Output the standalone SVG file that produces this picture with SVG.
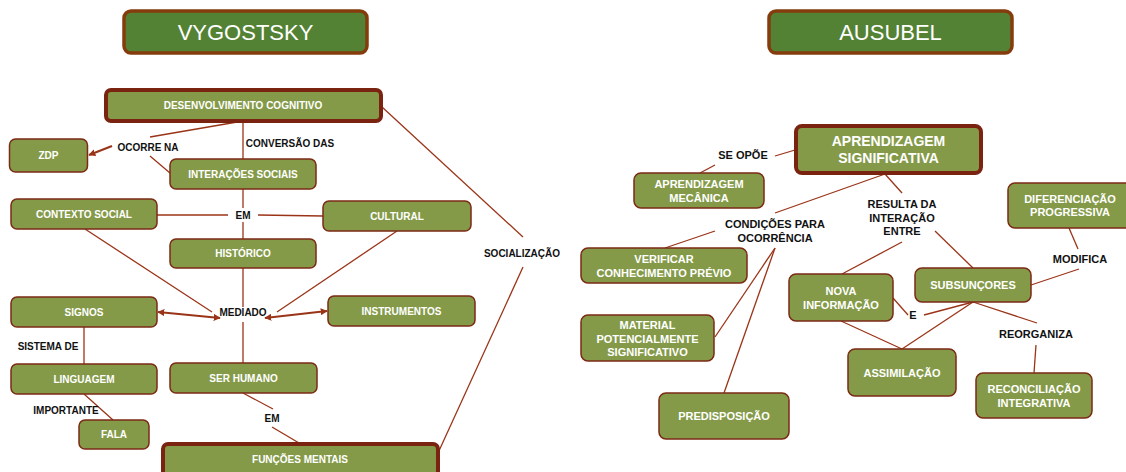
<svg xmlns="http://www.w3.org/2000/svg" width="1126" height="472" viewBox="0 0 1126 472">
  <defs>
    <marker id="arrow" viewBox="0 0 10 10" refX="9" refY="5" markerWidth="7" markerHeight="7" markerUnits="userSpaceOnUse" orient="auto-start-reverse">
      <path d="M0,0 L10,5 L0,10 z" fill="#9a3418"/>
    </marker>
    <style>
      .title rect { fill: #548235; stroke: #843c0c; stroke-width: 3.5; }
      .title text { fill: #ffffff; font-family: "Liberation Sans", Arial, sans-serif; font-size: 22px; text-anchor: middle; dominant-baseline: central; }
      .node rect { fill: #849a48; stroke: #7b2a14; stroke-width: 1.5; }
      .node.main rect { stroke: #7a2310; stroke-width: 4; }
      .node text { fill: #ffffff; font-family: "Liberation Sans", Arial, sans-serif; font-weight: bold; font-size: 10px; text-anchor: middle; dominant-baseline: central; }
      .aus text { font-size: 11px; }
      .aus.main text { font-size: 14px; }
      .lbl { fill: #111111; font-family: "Liberation Sans", Arial, sans-serif; font-weight: bold; font-size: 10px; text-anchor: middle; dominant-baseline: central; }
      .lbl.aus { font-size: 11px; }
      .links line { stroke: #9a3418; stroke-width: 1.3; fill: none; }
      .links line.arr { stroke-width: 2; }
    </style>
  </defs>

  <rect width="1126" height="472" fill="#ffffff"/>

  <!-- connectors -->
  <g class="links">
    <!-- Vygotsky -->
    <line x1="243" y1="121" x2="150" y2="137"/>
    <line class="arr" x1="112" y1="146" x2="89" y2="155" marker-end="url(#arrow)"/>
    <line x1="150" y1="156" x2="170" y2="173"/>
    <line x1="243" y1="121" x2="243" y2="159"/>
    <line x1="243" y1="189" x2="243" y2="208"/>
    <line x1="157" y1="215" x2="228" y2="215"/>
    <line x1="258" y1="215" x2="323" y2="216"/>
    <line x1="243" y1="222" x2="243" y2="239"/>
    <line x1="85" y1="229" x2="212" y2="312"/>
    <line x1="397" y1="231" x2="277" y2="312"/>
    <line x1="243" y1="268" x2="243" y2="307"/>
    <line x1="243" y1="322" x2="243" y2="363"/>
    <line class="arr" x1="158" y1="312" x2="220" y2="318" marker-start="url(#arrow)" marker-end="url(#arrow)"/>
    <line class="arr" x1="265" y1="318" x2="327" y2="311" marker-start="url(#arrow)" marker-end="url(#arrow)"/>
    <line x1="84" y1="327" x2="84" y2="364"/>
    <line x1="84" y1="394" x2="113" y2="420"/>
    <line x1="243" y1="393" x2="273" y2="409"/>
    <line x1="272" y1="427" x2="299" y2="443"/>
    <line x1="382" y1="107" x2="523" y2="237"/>
    <line x1="523" y1="267" x2="438" y2="453"/>
    <!-- Ausubel -->
    <line x1="775" y1="156" x2="795" y2="150"/>
    <line x1="715" y1="165" x2="700" y2="173"/>
    <line x1="885" y1="174" x2="775" y2="213"/>
    <line x1="885" y1="174" x2="902" y2="193"/>
    <line x1="715" y1="231" x2="665" y2="248"/>
    <line x1="775" y1="248" x2="715" y2="337"/>
    <line x1="775" y1="248" x2="724" y2="393"/>
    <line x1="902" y1="242" x2="842" y2="274"/>
    <line x1="935" y1="231" x2="973" y2="268"/>
    <line x1="893" y1="298" x2="908" y2="315"/>
    <line x1="924" y1="315" x2="973" y2="302"/>
    <line x1="841" y1="321" x2="902" y2="349"/>
    <line x1="973" y1="302" x2="902" y2="349"/>
    <line x1="973" y1="302" x2="1037" y2="323"/>
    <line x1="1036" y1="345" x2="1034" y2="373"/>
    <line x1="1069" y1="228" x2="1078" y2="249"/>
    <line x1="1079" y1="269" x2="1031" y2="285"/>
  </g>

  <!-- headings -->
  <g id="title-vygostsky" class="title">
    <rect x="124" y="11" width="243" height="42" rx="7"/>
    <text x="245.5" y="32">VYGOSTSKY</text>
  </g>
  <g id="title-ausubel" class="title">
    <rect x="769" y="11" width="243" height="42" rx="7"/>
    <text x="890.5" y="32">AUSUBEL</text>
  </g>

  <!-- Vygotsky nodes -->
  <g id="desenvolvimento-cognitivo" class="node main">
    <rect x="106" y="90" width="275" height="31" rx="5"/>
    <text x="243" y="105.5">DESENVOLVIMENTO COGNITIVO</text>
  </g>
  <g id="zdp" class="node">
    <rect x="9.5" y="139" width="78" height="33" rx="6"/>
    <text x="48.5" y="155.5">ZDP</text>
  </g>
  <g id="interacoes-sociais" class="node">
    <rect x="170" y="159" width="146" height="30" rx="6"/>
    <text x="243" y="174">INTERAÇÕES SOCIAIS</text>
  </g>
  <g id="contexto-social" class="node">
    <rect x="11" y="199" width="146" height="30" rx="6"/>
    <text x="84" y="214">CONTEXTO SOCIAL</text>
  </g>
  <g id="cultural" class="node">
    <rect x="323" y="201" width="148" height="30" rx="6"/>
    <text x="397" y="216">CULTURAL</text>
  </g>
  <g id="historico" class="node">
    <rect x="170" y="239" width="146" height="29" rx="6"/>
    <text x="243" y="253.5">HISTÓRICO</text>
  </g>
  <g id="signos" class="node">
    <rect x="11" y="297" width="146" height="30" rx="6"/>
    <text x="84" y="312">SIGNOS</text>
  </g>
  <g id="instrumentos" class="node">
    <rect x="328" y="296" width="147" height="30" rx="6"/>
    <text x="401.5" y="311">INSTRUMENTOS</text>
  </g>
  <g id="linguagem" class="node">
    <rect x="11" y="364" width="146" height="30" rx="6"/>
    <text x="84" y="379">LINGUAGEM</text>
  </g>
  <g id="ser-humano" class="node">
    <rect x="170" y="363" width="147" height="30" rx="6"/>
    <text x="243.5" y="378">SER HUMANO</text>
  </g>
  <g id="fala" class="node">
    <rect x="79" y="420" width="70" height="29" rx="6"/>
    <text x="114" y="434.5">FALA</text>
  </g>
  <g id="funcoes-mentais" class="node main">
    <rect x="163" y="444" width="275" height="32" rx="5"/>
    <text x="300" y="459">FUNÇÕES MENTAIS</text>
  </g>

  <!-- Vygotsky link labels -->
  <g id="labels-vygotsky">
    <text class="lbl" x="148" y="147">OCORRE NA</text>
    <text class="lbl" x="290" y="143">CONVERSÃO DAS</text>
    <text class="lbl" x="243" y="215">EM</text>
    <text class="lbl" x="243" y="312">MEDIADO</text>
    <text class="lbl" x="48" y="346">SISTEMA DE</text>
    <text class="lbl" x="66" y="410">IMPORTANTE</text>
    <text class="lbl" x="272" y="418">EM</text>
    <text class="lbl" x="522" y="253">SOCIALIZAÇÃO</text>
  </g>

  <!-- Ausubel nodes -->
  <g id="aprendizagem-significativa" class="node aus main">
    <rect x="796" y="126" width="185" height="47" rx="6"/>
    <text x="888.5" y="141">APRENDIZAGEM</text>
    <text x="888.5" y="158">SIGNIFICATIVA</text>
  </g>
  <g id="aprendizagem-mecanica" class="node aus">
    <rect x="634" y="173" width="130" height="35" rx="7"/>
    <text x="699" y="184">APRENDIZAGEM</text>
    <text x="699" y="198">MECÂNICA</text>
  </g>
  <g id="verificar-conhecimento" class="node aus">
    <rect x="581" y="248" width="166" height="35" rx="7"/>
    <text x="664" y="259">VERIFICAR</text>
    <text x="664" y="273">CONHECIMENTO PRÉVIO</text>
  </g>
  <g id="material-potencialmente" class="node aus">
    <rect x="581" y="315" width="133" height="46" rx="7"/>
    <text x="647.5" y="325">MATERIAL</text>
    <text x="647.5" y="338.5">POTENCIALMENTE</text>
    <text x="647.5" y="352">SIGNIFICATIVO</text>
  </g>
  <g id="predisposicao" class="node aus">
    <rect x="659" y="393" width="130" height="46" rx="7"/>
    <text x="724" y="416">PREDISPOSIÇÃO</text>
  </g>
  <g id="nova-informacao" class="node aus">
    <rect x="789" y="274" width="104" height="47" rx="7"/>
    <text x="841" y="291">NOVA</text>
    <text x="841" y="305">INFORMAÇÃO</text>
  </g>
  <g id="subsuncores" class="node aus">
    <rect x="915" y="268" width="116" height="34" rx="7"/>
    <text x="973" y="285">SUBSUNÇORES</text>
  </g>
  <g id="assimilacao" class="node aus">
    <rect x="848" y="349" width="108" height="47" rx="7"/>
    <text x="902" y="373">ASSIMILAÇÃO</text>
  </g>
  <g id="reconciliacao-integrativa" class="node aus">
    <rect x="976" y="373" width="116" height="45" rx="7"/>
    <text x="1034" y="389">RECONCILIAÇÃO</text>
    <text x="1034" y="403">INTEGRATIVA</text>
  </g>
  <g id="diferenciacao-progressiva" class="node aus">
    <rect x="1008" y="183" width="124" height="45" rx="7"/>
    <text x="1070" y="199">DIFERENCIAÇÃO</text>
    <text x="1070" y="212">PROGRESSIVA</text>
  </g>

  <!-- Ausubel link labels -->
  <g id="labels-ausubel">
    <text class="lbl aus" x="743" y="155">SE OPÕE</text>
    <text class="lbl aus" x="775" y="224">CONDIÇÕES PARA</text>
    <text class="lbl aus" x="775" y="238">OCORRÊNCIA</text>
    <text class="lbl aus" x="902" y="204">RESULTA DA</text>
    <text class="lbl aus" x="902" y="217.5">INTERAÇÃO</text>
    <text class="lbl aus" x="902" y="231">ENTRE</text>
    <text class="lbl aus" x="913" y="315">E</text>
    <text class="lbl aus" x="1036" y="334">REORGANIZA</text>
    <text class="lbl aus" x="1080" y="259">MODIFICA</text>
  </g>
</svg>
